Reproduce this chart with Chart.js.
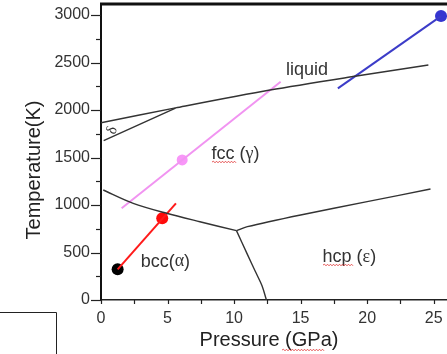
<!DOCTYPE html>
<html>
<head>
<meta charset="utf-8">
<style>
  html, body { margin: 0; padding: 0; background: #fff; }
  canvas { display: block; }
</style>
<script src="https://cdn.jsdelivr.net/npm/chart.js@4.4.1/dist/chart.umd.min.js"></script>
</head>
<body>
<canvas id="phaseChart" width="447" height="354"></canvas>
<script>
// Phase boundaries of iron (pressure in GPa, temperature in K)
const deltaLiquidP = [0, 5.6, 12.7, 19.2, 24.6];
const deltaLiquidT = [1866, 2022, 2210, 2358, 2474];
const deltaGammaP = [0.2, 5.6];
const deltaGammaT = [1677, 2020];
const alphaGammaP = [0.17, 2.42, 4.93, 7.43, 10.18];
const alphaGammaT = [1158, 1018, 913, 824, 730];
const gammaEpsP = [10.18, 11, 15, 20, 24.76];
const gammaEpsT = [730, 772, 895, 1035, 1168];
const alphaEpsP = [10.18, 11.0, 11.6, 12.1, 12.43];
const alphaEpsT = [730, 480, 300, 150, 0];

// coloured paths and their end dots
const redP = [1.25, 5.63];
const redT = [323, 1018];
const pinkP = [1.55, 13.5];
const pinkT = [965, 2298];
const blueP = [17.8, 25.55];
const blueT = [2228, 2989];
const blackDotP = [1.25];
const blackDotT = [323];
const redDotP = [4.6];
const redDotT = [860];
const pinkDotP = [6.1];
const pinkDotT = [1474];
const blueDotP = [25.55];
const blueDotT = [2989];

// axes
const xTickValues = [0, 5, 10, 15, 20, 25];
const yTickValues = [0, 500, 1000, 1500, 2000, 2500, 3000];

const toPts = (ps, ts) => ps.map((p, i) => ({ x: p, y: ts[i] }));

function boundary(ps, ts) {
    return { data: toPts(ps, ts), borderColor: '#333', borderWidth: 1.4, pointRadius: 0, fill: false, tension: 0.3 };
}
function path(ps, ts, color) {
    return { data: toPts(ps, ts), borderColor: color, borderWidth: 2, pointRadius: 0, fill: false };
}
function dot(ps, ts, color, r) {
    return { data: toPts(ps, ts), showLine: false, pointRadius: r, pointBackgroundColor: color, pointBorderColor: color, borderWidth: 0 };
}

const SANS = '"Liberation Sans", Arial, sans-serif';
const SERIF = '"Liberation Serif", "Times New Roman", serif';

function drawRich(ctx, parts, x, y, size) {
    let cx = x;
    parts.forEach(([s, fam]) => {
        ctx.font = `${size}px ${fam}`;
        ctx.fillText(s, cx, y);
        cx += ctx.measureText(s).width;
    });
}

function squiggle(ctx, x1, x2, y) {
    ctx.save();
    ctx.strokeStyle = '#e03030';
    ctx.lineWidth = 0.8;
    ctx.beginPath();
    ctx.moveTo(x1, y);
    let up = true;
    for (let xx = x1 + 1.5; xx <= x2; xx += 1.5) {
        ctx.lineTo(xx, y + (up ? -0.8 : 0.8));
        up = !up;
    }
    ctx.stroke();
    ctx.restore();
}

const decor = {
    id: 'decor',
    afterDraw(chart) {
        const { ctx, chartArea: area, scales: { x, y } } = chart;
        ctx.save();
        ctx.strokeStyle = '#222';

        // tick marks
        ctx.lineWidth = 1.2;
        y.ticks.forEach(t => {
            const py = Math.round(y.getPixelForValue(t.value)) + 0.5;
            const len = t.value % 500 === 0 ? 10 : 5;
            ctx.beginPath(); ctx.moveTo(area.left - len, py); ctx.lineTo(area.left, py); ctx.stroke();
        });
        x.ticks.forEach(t => {
            const px = Math.round(x.getPixelForValue(t.value)) + 0.5;
            ctx.beginPath(); ctx.moveTo(px, area.bottom); ctx.lineTo(px, area.bottom + 4); ctx.stroke();
        });

        // top frame line
        ctx.lineWidth = 3;
        ctx.strokeStyle = '#111';
        ctx.beginPath(); ctx.moveTo(area.left - 1, area.top); ctx.lineTo(area.right, area.top); ctx.stroke();

        // phase labels
        ctx.fillStyle = '#333';
        ctx.textBaseline = 'middle';
        ctx.textAlign = 'left';
        drawRich(ctx, [['liquid', SANS]], x.getPixelForValue(13.9), y.getPixelForValue(2420), 18);
        drawRich(ctx, [['fcc (', SANS], ['\u03b3', SERIF], [')', SANS]], x.getPixelForValue(8.3), y.getPixelForValue(1537), 18);
        drawRich(ctx, [['bcc(', SANS], ['\u03b1', SERIF], [')', SANS]], x.getPixelForValue(2.98), y.getPixelForValue(403), 18);
        drawRich(ctx, [['hcp (', SANS], ['\u03b5', SERIF], [')', SANS]], x.getPixelForValue(16.65), y.getPixelForValue(453), 18);

        // rotated delta
        ctx.save();
        ctx.translate(x.getPixelForValue(0.85), y.getPixelForValue(1785));
        ctx.rotate(-Math.PI * 0.4);
        ctx.textAlign = 'center';
        ctx.font = `15px ${SERIF}`;
        ctx.fillText('\u03b4', 0, 0);
        ctx.restore();

        // axis titles
        ctx.fillStyle = '#222';
        ctx.textAlign = 'center';
        ctx.font = `20px ${SANS}`;
        ctx.fillText('Pressure (GPa)', 269, 340);
        ctx.save();
        ctx.translate(34, 170);
        ctx.rotate(-Math.PI / 2);
        ctx.fillText('Temperature(K)', 0, 0);
        ctx.restore();

        // spell-check underlines
        squiggle(ctx, 212, 236, 162);
        squiggle(ctx, 323, 354, 265);
        squiggle(ctx, 282, 325, 350);

        // stray box in the corner
        ctx.strokeStyle = '#222';
        ctx.lineWidth = 1;
        ctx.beginPath();
        ctx.moveTo(0, 312.5); ctx.lineTo(56.5, 312.5); ctx.lineTo(56.5, 354);
        ctx.stroke();

        ctx.restore();
    }
};

new Chart(document.getElementById('phaseChart'), {
    type: 'line',
    data: {
        datasets: [
            boundary(deltaLiquidP, deltaLiquidT),
            boundary(deltaGammaP, deltaGammaT),
            boundary(alphaGammaP, alphaGammaT),
            boundary(gammaEpsP, gammaEpsT),
            boundary(alphaEpsP, alphaEpsT),
            path(pinkP, pinkT, '#f194f1'),
            path(redP, redT, '#ff1a1a'),
            path(blueP, blueT, '#3c3cc8'),
            dot(blackDotP, blackDotT, '#000', 6),
            dot(redDotP, redDotT, '#ff0a0a', 6),
            dot(pinkDotP, pinkDotT, '#f896f8', 5.5),
            dot(blueDotP, blueDotT, '#3535d0', 6)
        ]
    },
    options: {
        responsive: false,
        animation: false,
        layout: { autoPadding: false, padding: { top: 4, right: 0, bottom: 0, left: 0 } },
        plugins: { legend: { display: false }, tooltip: { enabled: false } },
        scales: {
            x: {
                type: 'linear', min: 0, max: 26,
                grid: { display: false, drawTicks: false },
                border: { display: true, color: '#222', width: 1.5 },
                ticks: {
                    stepSize: 2.5, autoSkip: false, maxRotation: 0, includeBounds: false,
                    padding: 9, color: '#333', font: { family: SANS, size: 16 },
                    callback: v => xTickValues.includes(v) ? String(v) : ''
                },
                afterFit: s => { s.height = 54; s.paddingLeft = 0; s.paddingRight = 0; }
            },
            y: {
                type: 'linear', min: 0, max: 3116,
                grid: { display: false, drawTicks: false },
                border: { display: true, color: '#111', width: 2 },
                ticks: {
                    stepSize: 250, autoSkip: false, includeBounds: false,
                    padding: 11, color: '#333', font: { family: SANS, size: 16 },
                    callback: v => yTickValues.includes(v) ? String(v) : ''
                },
                afterFit: s => { s.width = 101; s.paddingTop = 0; s.paddingBottom = 0; }
            }
        }
    },
    plugins: [decor]
});
</script>
</body>
</html>
